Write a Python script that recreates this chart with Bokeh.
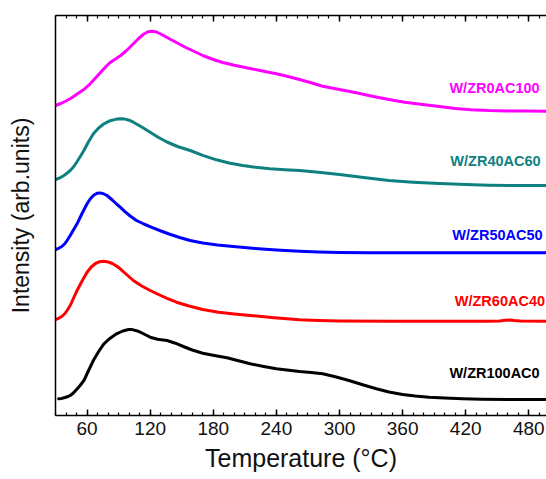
from bokeh.plotting import figure
from bokeh.models import Range1d, FixedTicker, LinearAxis, ColumnDataSource
from bokeh.core.properties import value
from bokeh.embed import file_html
from bokeh.resources import INLINE

# ---- data ----
mag_T = [30, 35, 40, 45, 51, 57, 63, 68, 73, 78, 82, 87, 92, 97, 100, 104, 109, 114, 118, 122, 126, 130, 136, 145, 153, 161, 170, 180, 189, 200, 215, 228, 240, 252, 262, 273, 284, 300, 316, 330, 347, 362, 379, 395, 410, 425, 442, 460, 480, 497]
mag_I = [310, 312, 314.5, 317.5, 321.7, 326, 331.7, 337.5, 343.3, 349, 353, 356.5, 360, 364.5, 367.5, 371.7, 377, 381.5, 383.8, 384.3, 383.5, 381.5, 378, 373, 368.5, 364.5, 360, 356, 353, 350.2, 347, 344.3, 341.7, 338.8, 336, 332.7, 329.3, 326, 322.7, 319.5, 316, 313.3, 311, 309, 307, 305.8, 305, 304.6, 304.4, 304.3]

teal_T = [30, 34, 38, 41, 44, 47, 50, 53, 57, 61, 66, 71, 76, 82, 88, 92, 96, 100, 104, 112, 120, 128, 136, 146, 158, 170, 183, 195, 208, 220, 234, 248, 262, 280, 300, 323, 347, 370, 395, 420, 442, 470, 497]
teal_I = [236, 237.5, 240, 242.3, 245, 248.5, 253, 258, 265, 273, 281.7, 287.5, 291.7, 294.8, 296.4, 296.7, 296.4, 295.3, 293.3, 288.5, 283.3, 278, 273.5, 269, 265, 260.2, 255.7, 252.5, 250, 248.2, 246.7, 245.8, 245, 243.3, 241, 238, 235, 233.3, 232, 231, 230.3, 230, 230]

blue_T = [30, 33, 36, 39, 41, 44, 47, 50.5, 55, 60, 63, 66, 69.5, 72, 75, 79, 84, 88, 91.5, 96, 101, 107, 114, 121, 129, 138, 148, 158, 170, 184, 199, 220, 240, 262, 280, 300, 330, 370, 430, 497]
blue_I = [166, 167.2, 169, 172, 175, 180, 185.5, 191.7, 201.5, 211.7, 216.5, 220, 222.3, 222.6, 222, 220, 215.5, 211.5, 208.3, 203.8, 199.5, 195, 191.5, 188.3, 185, 181.5, 178, 175, 172.5, 170.5, 169, 167, 165.5, 164.3, 163.5, 163, 162.8, 162.7, 162.7, 162.7]

red_T = [30, 33, 36, 39, 41, 44, 47, 50.5, 55, 60, 64, 68, 72, 76, 80, 84, 88, 91.5, 97, 104, 112, 120, 128, 136, 145, 157, 170, 185, 200, 215, 238, 262, 280, 300, 350, 400, 440, 452, 458, 462, 466, 472, 497]
red_I = [96, 97.2, 99, 102, 105, 110, 117, 125, 134, 143.3, 148.5, 152, 153.8, 154.3, 153.6, 152, 149.5, 146.7, 141.5, 135, 129.5, 125, 121, 117.2, 113.3, 109.5, 106, 103.2, 101.5, 100, 97.8, 95.7, 95, 94.5, 94.3, 94.3, 94.3, 94.6, 95.2, 95.5, 95, 94.4, 94.3]

blk_T = [33, 36, 39, 42, 44, 47, 50, 53, 57, 61, 66, 71, 76, 82, 88, 94, 99.5, 103, 107, 110.5, 115, 120, 127, 136, 144, 151.5, 160, 170, 181, 193, 204, 215, 228, 240, 252, 262, 273, 284, 296, 309, 322, 335, 347, 360, 372, 385, 400, 417, 435, 460, 497]
blk_I = [16.7, 17.1, 18, 19, 20, 22.5, 26, 29.5, 35, 44, 55, 64, 71.7, 77.3, 81.7, 84.5, 86, 85.9, 84.8, 83.3, 81, 78.3, 76.2, 75, 72.3, 69, 65.5, 62.3, 60, 57.7, 54.8, 51.7, 49, 46.7, 45.2, 44, 43, 41.7, 38.8, 35, 30.7, 26.7, 23.5, 21, 19.5, 18.3, 17.4, 16.7, 16.3, 16.1, 16]

names = ["W/ZR0AC100", "W/ZR40AC60", "W/ZR50AC50", "W/ZR60AC40", "W/ZR100AC0"]
colors = ["#FF00FF", "#0F8080", "#0000FF", "#FF0000", "#000000"]
x_ticks = [60, 120, 180, 240, 300, 360, 420, 480]

# label anchor positions (data coords)
lab_x = [447.4, 448.3, 450.2, 452.5, 447.4]
lab_y = [327.7, 254.3, 181, 115, 42.3]

p = figure(width=546, height=479, output_backend="svg", toolbar_location=None,
           x_range=Range1d(30, 496.8), y_range=Range1d(0, 400),
           x_axis_location=None, y_axis_location=None,
           min_border_left=55, min_border_right=0, min_border_top=15, min_border_bottom=64)
p.outline_line_color = None
p.xgrid.visible = False
p.ygrid.visible = False
p.background_fill_color = "white"

ticker = FixedTicker(ticks=x_ticks, minor_ticks=list(range(30, 500, 10)))

xb = LinearAxis(ticker=ticker, axis_label="Temperature (°C)")
xb.major_tick_in = 6
xb.major_tick_out = 0
xb.minor_tick_in = 3
xb.minor_tick_out = 0
xb.axis_line_width = 1.5
xb.major_tick_line_width = 1.5
xb.minor_tick_line_width = 1.2
xb.major_label_text_font = "Liberation Sans"
xb.major_label_text_font_size = "19px"
xb.major_label_text_color = "#111111"
xb.major_label_standoff = 6
xb.axis_label_text_font = "Liberation Sans"
xb.axis_label_text_font_size = "25px"
xb.axis_label_text_font_style = "normal"
xb.axis_label_standoff = 6
xb.axis_label_text_color = "#111111"
p.add_layout(xb, "below")

xt = LinearAxis(ticker=ticker)
xt.major_tick_in = 6
xt.major_tick_out = 0
xt.minor_tick_in = 3
xt.minor_tick_out = 0
xt.axis_line_width = 1.5
xt.major_tick_line_width = 1.5
xt.minor_tick_line_width = 1.2
xt.major_label_overrides = {t: "" for t in x_ticks}
xt.major_label_standoff = 0
p.add_layout(xt, "above")

yl = LinearAxis(ticker=FixedTicker(ticks=[]), axis_label="Intensity (arb.units)")
yl.major_tick_in = 0
yl.major_tick_out = 0
yl.minor_tick_in = 0
yl.minor_tick_out = 0
yl.axis_line_width = 1.5
yl.major_label_standoff = 0
yl.axis_label_text_font = "Liberation Sans"
yl.axis_label_text_font_size = "23px"
yl.axis_label_text_font_style = "normal"
yl.axis_label_standoff = 22
yl.axis_label_text_color = "#111111"
p.add_layout(yl, "left")

series = [(mag_T, mag_I), (teal_T, teal_I), (blue_T, blue_I), (red_T, red_I), (blk_T, blk_I)]
for (t, i), c in zip(series, colors):
    p.line(t, i, line_color=c, line_width=3, line_join="round", line_cap="round")

src = ColumnDataSource(dict(x=lab_x, y=lab_y, text=names, color=colors))
p.text(x="x", y="y", text="text", text_color="color", source=src,
       text_font=value("Liberation Sans"), text_font_style="bold",
       text_font_size="14.5px", text_align="center", text_baseline="middle")

open("out.html", "w").write(file_html(p, INLINE))
